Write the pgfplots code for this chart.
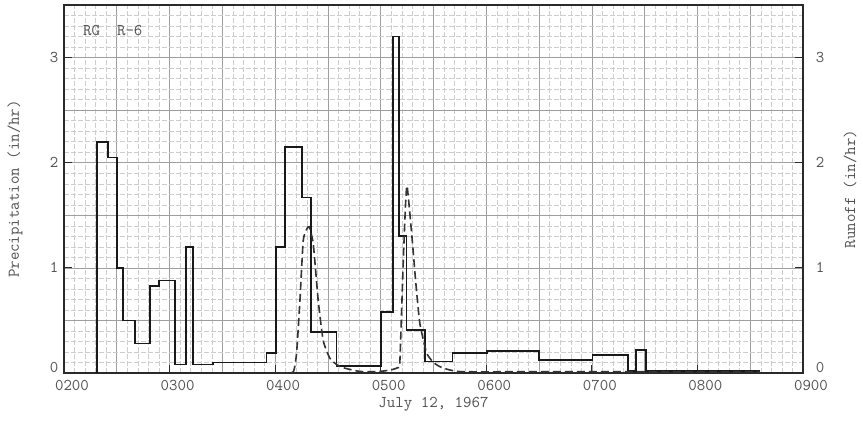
\documentclass[border=0pt]{standalone}
\usepackage{fontspec}
\usepackage{pgfplots}
\pgfplotsset{compat=1.18}

\definecolor{inkgray}{HTML}{505050}
\definecolor{framec}{HTML}{2A2A2A}
\definecolor{majgrid}{HTML}{9E9E9E}
\definecolor{mingrid}{HTML}{CDCDCD}
\newcommand\lab{\ttfamily\fontsize{16.5}{18}\selectfont}

% Precipitation intensity (in/hr), held constant from each time to the next
\pgfplotstableread{
t      p
2.316  0
2.316  2.20
2.420  2.05
2.505  1.00
2.556  0.50
2.672  0.28
2.814  0.83
2.903  0.88
3.051  0.08
3.152  1.20
3.219  0.08
3.414  0.10
3.919  0.19
4.008  1.20
4.093  2.15
4.251  1.67
4.336  0.39
4.582  0.07
4.999  0.58
5.113  3.20
5.175  1.30
5.245  0.41
5.419  0.11
5.680  0.19
6.003  0.21
6.500  0.12
7.006  0.17
7.344  0.02
7.420  0.22
7.510  0.02
8.590  0.02
}\precip

% Runoff rate (in/hr)
\pgfplotstableread{
t      r
4.045  0.000
4.171  0.010
4.203  0.190
4.235  0.690
4.266  1.260
4.300  1.370
4.323  1.390
4.361  1.230
4.408  0.690
4.455  0.310
4.519  0.140
4.614  0.060
4.800  0.015
4.990  0.015
5.100  0.030
5.160  0.050
5.180  0.080
5.195  0.500
5.215  1.100
5.235  1.600
5.250  1.780
5.293  1.330
5.333  0.850
5.371  0.470
5.435  0.190
5.500  0.100
5.561  0.060
5.650  0.030
5.781  0.012
6.500  0.012
7.500  0.012
8.590  0.012
}\runoff

\pgfplotsset{
  chartbase/.style={
    at={(0,0)}, anchor=south west,
    scale only axis, width=739bp, height=368bp,
    xmin=2, xmax=9, ymin=0, ymax=3.5,
  },
}

\begin{document}
\begin{tikzpicture}
% chart-paper grid: heavier every half unit, light every tenth
\begin{axis}[chartbase,
    xtick={2,2.5,...,9}, ytick={0,0.5,...,3.5},
    minor x tick num=4, minor y tick num=4,
    grid=both,
    xticklabels={}, yticklabels={},
    major tick length=0pt, minor tick length=0pt,
    axis line style={draw=none},
    major grid style={majgrid, line width=0.6bp},
    minor grid style={mingrid, line width=0.45bp, dash pattern=on 5bp off 2bp},
  ]
\end{axis}

% main axis: precipitation and runoff
\begin{axis}[chartbase,
    axis line style={framec, line width=1.5bp},
    xtick={2,...,9},
    xticklabels={0200,0300,0400,0500,0600,0700,0800,0900},
    ytick={1,2,3},
    extra y ticks={0},
    extra y tick style={yticklabel style={yshift=6bp}},
    xtick pos=bottom, ytick pos=both,
    tick align=inside, major tick length=8bp,
    tick style={framec, line width=1.2bp},
    /pgf/number format/assume math mode=true,
    ticklabel style={font=\lab, text=inkgray},
    yticklabel style={anchor=center, xshift=-10bp},
    xticklabel style={anchor=center, xshift=8bp, yshift=-12bp},
    xlabel={July 12, 1967},
    xlabel style={font=\lab, text=inkgray, at={(axis description cs:0.5,-0.084)}, anchor=center},
    ylabel={Precipitation (in/hr)},
    ylabel style={font=\lab, text=inkgray, at={(axis description cs:-0.0663,0.5)}, anchor=center},
  ]
  \addplot[const plot mark left, black!90, line width=1.8bp, line join=miter]
    table[x=t, y=p] {\precip};
  \addplot[smooth, tension=0.3, black!80, line width=1.6bp, dash pattern=on 8bp off 4bp]
    table[x=t, y=r] {\runoff};
  \node[font=\lab, text=inkgray, anchor=west, inner sep=0pt]
    at (axis description cs:0.0257,0.932) {RG\ \ R-6};
\end{axis}

% right-hand scale for runoff
\begin{axis}[chartbase,
    axis y line*=right, axis x line=none,
    axis line style={draw=none},
    ytick={1,2,3}, major tick length=0pt,
    extra y ticks={0},
    extra y tick style={yticklabel style={yshift=6bp}},
    /pgf/number format/assume math mode=true,
    ticklabel style={font=\lab, text=inkgray},
    yticklabel style={anchor=center, xshift=17bp},
    ylabel={Runoff (in/hr)},
    ylabel style={font=\lab, text=inkgray, at={(axis description cs:1.0636,0.5)}, anchor=center, rotate=0},
  ]
\end{axis}

\pgfresetboundingbox
\useasboundingbox (-64bp,-62bp) rectangle (799bp,373bp);
\end{tikzpicture}
\end{document}
